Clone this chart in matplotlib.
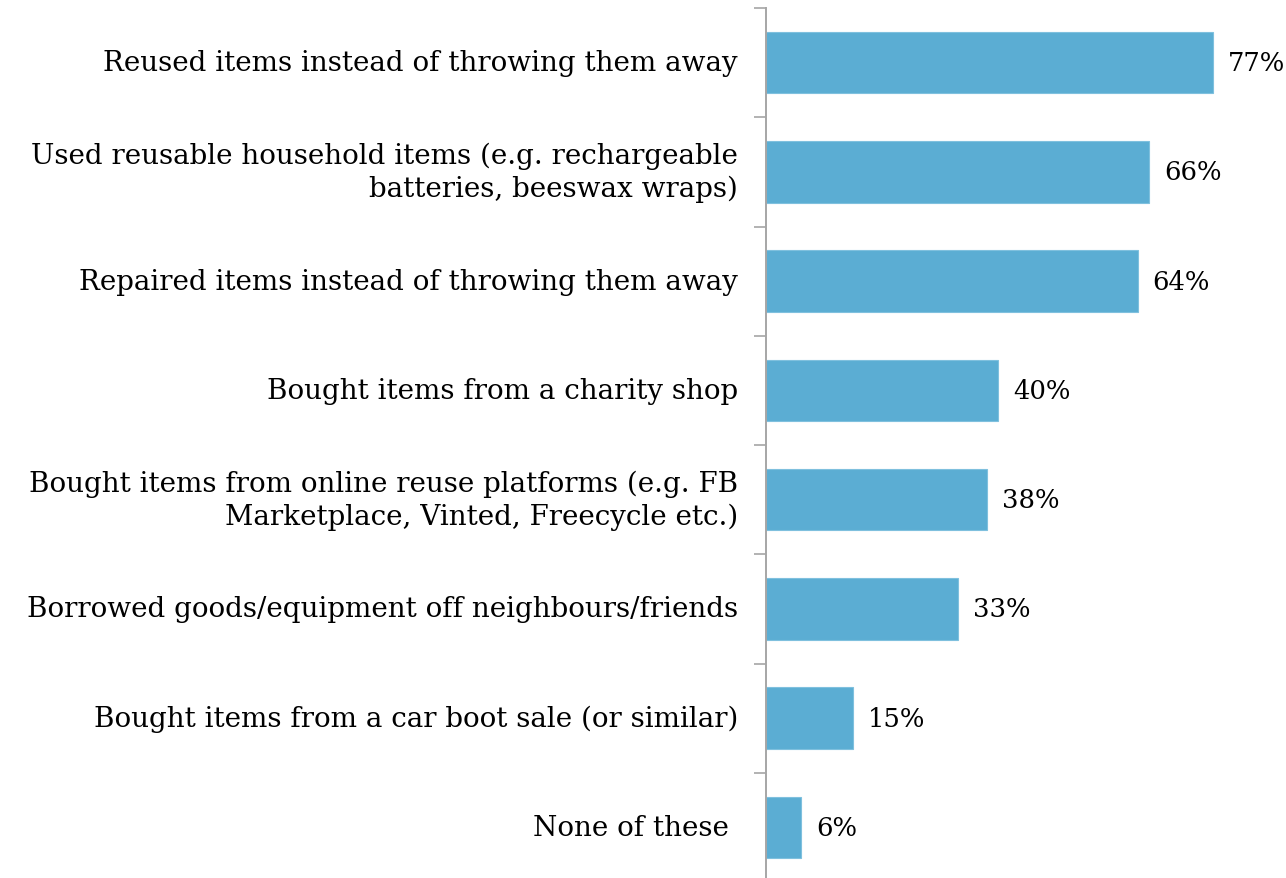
import matplotlib
matplotlib.use("Agg")
import matplotlib.pyplot as plt

categories = [
    "Reused items instead of throwing them away",
    "Used reusable household items (e.g. rechargeable\nbatteries, beeswax wraps)",
    "Repaired items instead of throwing them away",
    "Bought items from a charity shop",
    "Bought items from online reuse platforms (e.g. FB\nMarketplace, Vinted, Freecycle etc.)",
    "Borrowed goods/equipment off neighbours/friends",
    "Bought items from a car boot sale (or similar)",
    "None of these ",
]
values = [77, 66, 64, 40, 38, 33, 15, 6]
value_labels = ["77%", "66%", "64%", "40%", "38%", "33%", "15%", "6%"]

BAR_COLOR = "#5BADD3"
AXIS_COLOR = "#A6A6A6"
FONT = ["DejaVu Serif"]
FS = 20
FS_VAL = 18.6

W, H = 1286, 879
fig = plt.figure(figsize=(W / 100, H / 100), dpi=100)
ax_left = 766 / W
ax_top = 1 - 9 / H
ax_bottom = 1 - 883 / H
ax = fig.add_axes([ax_left, ax_bottom, 1 - ax_left, ax_top - ax_bottom])

n = len(categories)
pos = list(range(n))
ax.barh(pos, values, height=0.565, color=BAR_COLOR, edgecolor="#7FC0DE",
        linewidth=0.8)
ax.set_ylim(n - 0.5, -0.5)
ax.set_xlim(0, (W - 766) / 5.805)

# category boundaries carry the tick marks
ax.set_yticks([i - 0.5 for i in range(n + 1)])
ax.set_yticklabels([])
ax.tick_params(axis="y", direction="out", length=9, width=1.2, color=AXIS_COLOR)
ax.set_xticks([])
for side in ("top", "right", "bottom"):
    ax.spines[side].set_visible(False)
ax.spines["left"].set_color(AXIS_COLOR)
ax.spines["left"].set_linewidth(1.4)

for i, (cat, v, lab) in enumerate(zip(categories, values, value_labels)):
    ax.annotate(cat, xy=(0, i), xycoords="data", xytext=(-28, 0),
                textcoords="offset pixels", ha="right", va="center",
                fontsize=FS, family=FONT, linespacing=1.27,
                multialignment="right", color="#000000")
    ax.annotate(lab, xy=(v, i), xycoords="data", xytext=(15, 0),
                textcoords="offset pixels", ha="left", va="center",
                fontsize=FS_VAL, family=FONT, color="#000000")

fig.savefig("out.png", dpi=100)
